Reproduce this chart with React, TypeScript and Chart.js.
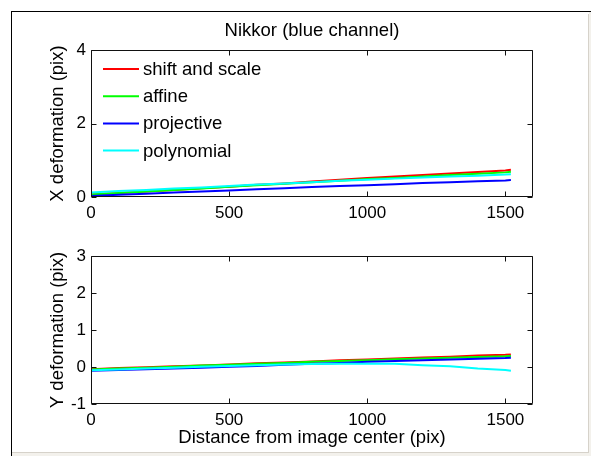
import React, { useEffect, useRef } from "react";
import { Chart, registerables } from "chart.js";

Chart.register(...registerables);

// ---------- data ----------
const distance = [0, 100, 200, 300, 400, 500, 600, 700, 800, 900, 1000, 1100, 1200, 1300, 1400, 1500, 1520];

const xTicks = [0, 500, 1000, 1500];
const topYTicks = [0, 2, 4];
const bottomYTicks = [-1, 0, 1, 2, 3];

const seriesLabels = ["shift and scale", "affine", "projective", "polynomial"];
const seriesColors = ["#ff0000", "#00ff00", "#0000ff", "#00ffff"];

// X deformation (pix)
const xShiftScale = [0.07, 0.11, 0.15, 0.19, 0.24, 0.28, 0.33, 0.37, 0.42, 0.47, 0.52, 0.56, 0.60, 0.64, 0.68, 0.72, 0.74];
const xAffine = [0.07, 0.11, 0.15, 0.19, 0.23, 0.28, 0.32, 0.36, 0.40, 0.44, 0.49, 0.52, 0.56, 0.60, 0.63, 0.67, 0.69];
const xProjective = [0.03, 0.06, 0.09, 0.12, 0.15, 0.18, 0.21, 0.24, 0.27, 0.30, 0.32, 0.35, 0.38, 0.40, 0.43, 0.45, 0.46];
const xPolynomial = [0.12, 0.16, 0.19, 0.23, 0.26, 0.30, 0.34, 0.37, 0.40, 0.44, 0.47, 0.50, 0.53, 0.56, 0.58, 0.61, 0.62];

// Y deformation (pix)
const yShiftScale = [-0.06, -0.03, -0.01, 0.02, 0.04, 0.07, 0.10, 0.12, 0.15, 0.18, 0.20, 0.23, 0.26, 0.28, 0.31, 0.33, 0.34];
const yAffine = [-0.07, -0.04, -0.02, 0.01, 0.04, 0.06, 0.09, 0.11, 0.14, 0.16, 0.18, 0.21, 0.23, 0.25, 0.27, 0.29, 0.30];
const yProjective = [-0.10, -0.08, -0.06, -0.04, -0.02, 0.01, 0.03, 0.06, 0.09, 0.11, 0.14, 0.16, 0.18, 0.20, 0.22, 0.24, 0.25];
const yPolynomial = [-0.09, -0.07, -0.04, -0.02, 0.01, 0.03, 0.05, 0.07, 0.08, 0.09, 0.09, 0.09, 0.05, 0.02, -0.04, -0.08, -0.10];

const FONT = '"Liberation Sans", Arial, Helvetica, sans-serif';

// ---------- plugins ----------
const boxPlugin = {
  id: "matlabBox",
  afterDraw(chart: any) {
    const { ctx, chartArea: a, scales } = chart;
    ctx.save();
    ctx.strokeStyle = "#111";
    ctx.lineWidth = 1;
    const l = Math.round(a.left) + 0.5;
    const r = Math.round(a.right) - 0.5;
    const t = Math.round(a.top) + 0.5;
    const b = Math.round(a.bottom) - 0.5;
    ctx.beginPath();
    ctx.moveTo(l, t);
    ctx.lineTo(r, t);
    ctx.lineTo(r, b);
    ctx.lineTo(l, b);
    ctx.closePath();
    ctx.stroke();
    const L = 5;
    ctx.beginPath();
    scales.x.ticks.forEach((tk: any) => {
      const px = Math.round(scales.x.getPixelForValue(tk.value)) + 0.5;
      ctx.moveTo(px, b);
      ctx.lineTo(px, b - L);
      ctx.moveTo(px, t);
      ctx.lineTo(px, t + L);
    });
    scales.y.ticks.forEach((tk: any) => {
      const py = Math.round(scales.y.getPixelForValue(tk.value)) + 0.5;
      ctx.moveTo(l, py);
      ctx.lineTo(l + L, py);
      ctx.moveTo(r, py);
      ctx.lineTo(r - L, py);
    });
    ctx.stroke();
    ctx.restore();
  },
};

const insideLegendPlugin = {
  id: "insideLegend",
  afterDraw(chart: any) {
    const { ctx, chartArea: a } = chart;
    ctx.save();
    ctx.font = `18.5px ${FONT}`;
    ctx.textBaseline = "middle";
    ctx.textAlign = "left";
    seriesLabels.forEach((label, i) => {
      const y = a.top + 19 + i * 27.2;
      ctx.strokeStyle = seriesColors[i];
      ctx.lineWidth = 2;
      ctx.beginPath();
      ctx.moveTo(a.left + 12, y);
      ctx.lineTo(a.left + 48, y);
      ctx.stroke();
      ctx.fillStyle = "#000";
      ctx.fillText(label, a.left + 52, y + 1);
    });
    ctx.restore();
  },
};

function makeDatasets(series: number[][]) {
  return series.map((vals, i) => ({
    label: seriesLabels[i],
    data: distance.map((d, j) => ({ x: d, y: vals[j] })),
    borderColor: seriesColors[i],
    backgroundColor: seriesColors[i],
    borderWidth: 2,
    pointRadius: 0,
    tension: 0,
    fill: false,
    order: 3 - i,
  }));
}

const plainLabel = (v: any) => String(v);

function axisX(titleText: string | null, height: number) {
  return {
    type: "linear",
    min: 0,
    max: 1600,
    afterBuildTicks: (s: any) => {
      s.ticks = xTicks.map((v) => ({ value: v }));
    },
    afterFit: (s: any) => {
      s.height = height;
    },
    grid: { display: false, drawTicks: false },
    border: { display: false },
    ticks: { color: "#000", font: { family: FONT, size: 17 }, padding: 6, maxRotation: 0, autoSkip: false, callback: plainLabel },
    title: titleText
      ? { display: true, text: titleText, color: "#000", font: { family: FONT, size: 18.5 }, padding: { top: 0, bottom: 6.9 } }
      : { display: false },
  };
}

function axisY(titleText: string, min: number, max: number, tickVals: number[]) {
  return {
    type: "linear",
    min,
    max,
    afterBuildTicks: (s: any) => {
      s.ticks = tickVals.map((v) => ({ value: v }));
    },
    afterFit: (s: any) => {
      s.width = 91;
    },
    grid: { display: false, drawTicks: false },
    border: { display: false },
    ticks: { color: "#000", font: { family: FONT, size: 17 }, padding: 5, autoSkip: false, callback: plainLabel },
    title: { display: true, text: titleText, color: "#000", font: { family: FONT, size: 18.5 }, padding: { top: 46.4, bottom: 0 } },
  };
}

export default function App() {
  const topRef = useRef<HTMLCanvasElement>(null);
  const botRef = useRef<HTMLCanvasElement>(null);

  useEffect(() => {
    const top = new Chart(topRef.current as HTMLCanvasElement, {
      type: "line",
      data: { datasets: makeDatasets([xShiftScale, xAffine, xProjective, xPolynomial]) as any },
      options: {
        animation: false,
        responsive: false,
        layout: { padding: { left: 0, right: 58, top: 0, bottom: 0 } },
        plugins: {
          legend: { display: false },
          tooltip: { enabled: false },
          title: {
            display: true,
            text: "Nikkor (blue channel)",
            fullSize: false,
            color: "#000",
            font: { family: FONT, size: 18.5, weight: "normal" },
            padding: { top: 20, bottom: 7.8 },
          },
        },
        scales: {
          x: axisX(null, 33) as any,
          y: axisY("X deformation (pix)", 0, 4, topYTicks) as any,
        },
      },
      plugins: [boxPlugin, insideLegendPlugin],
    });

    const bottom = new Chart(botRef.current as HTMLCanvasElement, {
      type: "line",
      data: { datasets: makeDatasets([yShiftScale, yAffine, yProjective, yPolynomial]) as any },
      options: {
        animation: false,
        responsive: false,
        layout: { padding: { left: 0, right: 58, top: 26, bottom: 0 } },
        plugins: {
          legend: { display: false },
          tooltip: { enabled: false },
          title: { display: false },
        },
        scales: {
          x: axisX("Distance from image center (pix)", 52) as any,
          y: axisY("Y deformation (pix)", -1, 3, bottomYTicks) as any,
        },
      },
      plugins: [boxPlugin],
    });

    return () => {
      top.destroy();
      bottom.destroy();
    };
  }, []);

  return (
    <div style={{ position: "absolute", left: 0, top: 0, width: 591, height: 456, background: "#fff", overflow: "hidden" }}>
      <canvas ref={topRef} width={591} height={230} style={{ position: "absolute", left: 0, top: 0, width: 591, height: 230, display: "block" }} />
      <canvas ref={botRef} width={591} height={226} style={{ position: "absolute", left: 0, top: 230, width: 591, height: 226, display: "block" }} />
      {/* window frame */}
      <div style={{ position: "absolute", left: 11, top: 11, width: 1, height: 445, background: "#000" }} />
      <div style={{ position: "absolute", left: 11, top: 11, width: 580, height: 1, background: "#000" }} />
      <div style={{ position: "absolute", left: 588, top: 14, width: 1, height: 439, background: "#d6d2ca" }} />
      <div style={{ position: "absolute", left: 12, top: 452, width: 577, height: 1, background: "#d6d2ca" }} />
      <div style={{ position: "absolute", left: 12, top: 453, width: 579, height: 3, background: "#f3f1ec" }} />
      <div style={{ position: "absolute", left: 589, top: 12, width: 2, height: 441, background: "#f3f1ec" }} />
    </div>
  );
}
